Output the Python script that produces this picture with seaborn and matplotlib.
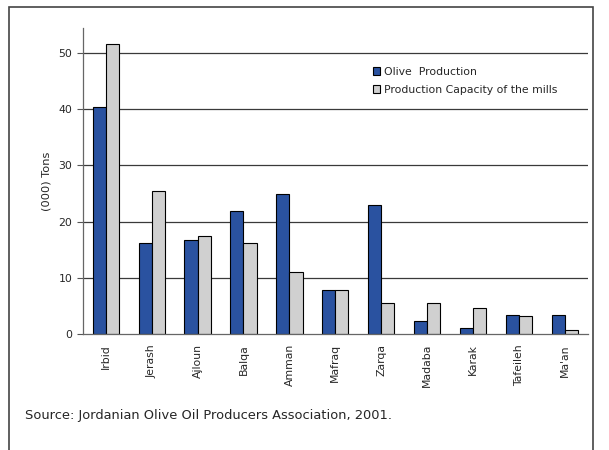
import numpy as np
import pandas as pd
import matplotlib
matplotlib.use("Agg")
import matplotlib.pyplot as plt
import seaborn as sns
from matplotlib.patches import Rectangle

# data
regions = ["Irbid", "Jerash", "Ajloun", "Balqa", "Amman", "Mafraq",
           "Zarqa", "Madaba", "Karak", "Tafeileh", "Ma'an"]
olive_production = [40.4, 16.3, 16.7, 21.9, 24.9, 7.8, 23.0, 2.3, 1.1, 3.4, 3.4]
mill_capacity = [51.5, 25.5, 17.4, 16.3, 11.0, 7.8, 5.5, 5.5, 4.7, 3.2, 0.8]
series_names = ["Olive  Production", "Production Capacity of the mills"]

df = pd.DataFrame({
    "region": regions * 2,
    "tons": olive_production + mill_capacity,
    "series": [series_names[0]] * len(regions) + [series_names[1]] * len(regions),
})

sns.set_style("white")
plt.rcParams["font.family"] = ["DejaVu Sans"]

fig = plt.figure(figsize=(6.09, 4.5), dpi=100)
ax = fig.add_axes([0.1358, 0.257, 0.8297, 0.681])

sns.barplot(data=df, x="region", y="tons", hue="series", order=regions,
            palette=["#2A52A0", "#D0D0D0"], saturation=1, width=0.57, gap=0,
            edgecolor="black", linewidth=0.8, ax=ax)

ax.set_ylim(0, 54.4)
ax.set_xlim(-0.5, len(regions) - 0.5)
ax.set_yticks([0, 10, 20, 30, 40, 50])
for v in [10, 20, 30, 40, 50]:
    ax.axhline(v, color="#3a3a3a", lw=0.9, zorder=0)

ax.set_xticks(np.arange(len(regions)))
ax.set_xticklabels(regions, rotation=90, fontsize=7.8)
ax.set_xticks(np.arange(-0.5, len(regions)), minor=True)
ax.tick_params(axis="x", which="major", length=0, pad=7)
ax.tick_params(axis="x", which="minor", length=4, width=0.8, color="#555555", direction="out")
ax.tick_params(axis="y", length=4, width=0.8, color="#555555", labelsize=7.8, direction="out", left=True)

for s in ["top", "right"]:
    ax.spines[s].set_visible(False)
for s in ["left", "bottom"]:
    ax.spines[s].set_color("#666666")
    ax.spines[s].set_linewidth(0.9)

ax.set_xlabel("")
ax.set_ylabel("(000) Tons", fontsize=8.2, labelpad=5)

leg = ax.legend(loc="upper left", bbox_to_anchor=(0.555, 0.905), frameon=False,
                fontsize=7.8, handlelength=0.7, handleheight=0.7,
                handletextpad=0.3, labelspacing=0.75)

fig.text(25 / 609, 1 - 416 / 450, "Source: Jordanian Olive Oil Producers Association, 2001.",
         fontsize=9.4, va="center", ha="left")

# frame around the picture
fig.patches.append(Rectangle((8.5 / 609, -0.1), (593 - 8.5) / 609, 1.1 - 6.5 / 450,
                             transform=fig.transFigure, fill=False,
                             edgecolor="#444444", lw=1.2))

fig.savefig("out.png", dpi=100)
